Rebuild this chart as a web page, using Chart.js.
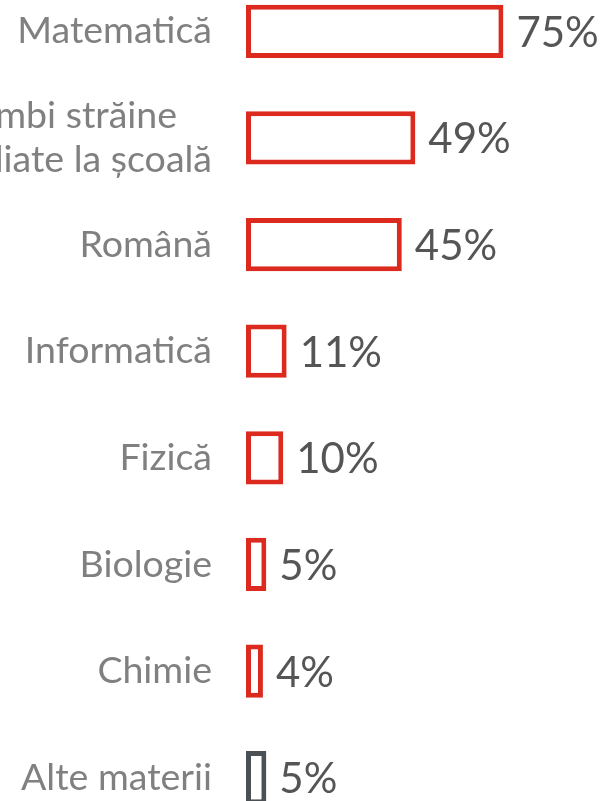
<!DOCTYPE html>
<html><head><meta charset="utf-8">
<script src="https://cdn.jsdelivr.net/npm/chart.js@4/dist/chart.umd.min.js"></script>
<style>
html,body{margin:0;padding:0;background:#fff;overflow:hidden;width:606px;height:801px;}
#wrap{position:absolute;left:0;top:-22px;width:606px;height:853px;}
</style></head>
<body>
<div id="wrap"><canvas id="c"></canvas></div>
<script>
const categories = ["Matematică", ["Limbi străine", "studiate la școală"], "Română", "Informatică", "Fizică", "Biologie", "Chimie", "Alte materii"];
const values = [75, 49, 45, 11, 10, 5, 4, 5];
const valueLabels = ["75%", "49%", "45%", "11%", "10%", "5%", "4%", "5%"];
const borderColors = ["#dc2a1e","#dc2a1e","#dc2a1e","#dc2a1e","#dc2a1e","#dc2a1e","#dc2a1e","#4b5055"];

const labelPlugin = {
  id: 'labels',
  afterDatasetsDraw(chart) {
    const ctx = chart.ctx;
    const y = chart.scales.y;
    const meta = chart.getDatasetMeta(0);
    ctx.save();
    ctx.font = '37.5px Lato';
    ctx.fillStyle = '#808080';
    ctx.textBaseline = 'middle';
    const rightX = chart.chartArea.left - 34;
    const lh = 44;
    categories.forEach((lab, i) => {
      const cy = y.getPixelForValue(i);
      const lines = Array.isArray(lab) ? lab : [lab];
      const w = Math.max(...lines.map(l => ctx.measureText(l).width));
      ctx.textAlign = 'center';
      const cx = rightX - w / 2;
      const y0 = cy - (lines.length - 1) * lh / 2;
      lines.forEach((l, k) => ctx.fillText(l, cx, y0 + k * lh));
    });
    ctx.font = '42px Lato';
    ctx.fillStyle = '#555555';
    ctx.textAlign = 'left';
    meta.data.forEach((bar, i) => {
      ctx.fillText(valueLabels[i], bar.x + 13, bar.y + 2);
    });
    ctx.restore();
  }
};

new Chart(document.getElementById('c'), {
  type: 'bar',
  data: {
    labels: categories,
    datasets: [{
      data: values,
      base: -1,
      backgroundColor: '#ffffff',
      borderColor: borderColors,
      borderWidth: 5,
      borderSkipped: false,
      barPercentage: 0.5,
      categoryPercentage: 1.0
    }]
  },
  options: {
    indexAxis: 'y',
    responsive: true,
    maintainAspectRatio: false,
    animation: false,
    layout: { padding: { left: 246, right: 0, top: 0, bottom: 0 } },
    plugins: { legend: { display: false }, tooltip: { enabled: false } },
    scales: {
      x: { display: false, min: -1, max: 105.3 },
      y: { display: false }
    }
  },
  plugins: [labelPlugin]
});
</script>
</body></html>
